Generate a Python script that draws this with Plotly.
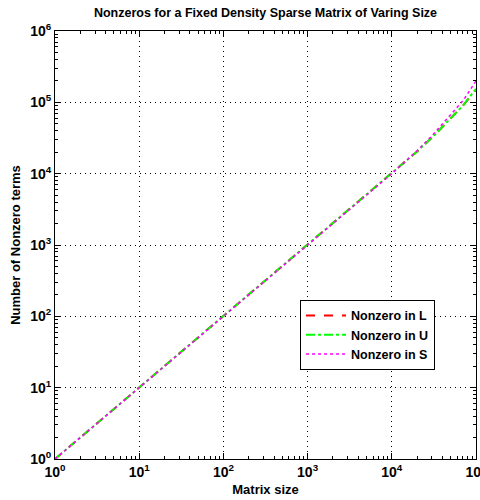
import plotly.graph_objects as go

matrix_size = [1, 2, 5, 10, 20, 50, 100, 200, 500, 1000, 2000, 5000, 10000, 20000, 30000, 50000, 70000, 100000]
nnz_L = [1, 2, 5, 10, 20, 50, 100, 200, 500, 1000, 2000, 5000, 10000, 20500, 32000, 60000, 90000, 150000]
nnz_U = [1, 2, 5, 10, 20, 50, 100, 200, 500, 1000, 2000, 5000, 10000, 20500, 32000, 60000, 90000, 155000]
nnz_S = [1, 2, 5, 10, 20, 50, 100, 200, 500, 1000, 2000, 5000, 10000, 21000, 34000, 67000, 105000, 200000]

x_major = [1, 10, 100, 1000, 10000, 100000]
x_labels = ["10<sup>0</sup>", "10<sup>1</sup>", "10<sup>2</sup>", "10<sup>3</sup>", "10<sup>4</sup>", "10<sup>5</sup>"]
y_major = [1, 10, 100, 1000, 10000, 100000, 1000000]
y_labels = ["10<sup>0</sup>", "10<sup>1</sup>", "10<sup>2</sup>", "10<sup>3</sup>", "10<sup>4</sup>", "10<sup>5</sup>", "10<sup>6</sup>"]

def minor_vals(majors):
    out = []
    for m in majors[:-1]:
        out += [m * k for k in range(2, 10)]
    return out

font = "Liberation Sans, Arial, sans-serif"

fig = go.Figure()
fig.add_trace(go.Scatter(x=matrix_size, y=nnz_L, mode="lines", name="<b>Nonzero in L</b>",
                         line=dict(color="#FF0000", width=2, dash="dash")))
fig.add_trace(go.Scatter(x=matrix_size, y=nnz_U, mode="lines", name="<b>Nonzero in U</b>",
                         line=dict(color="#00FF00", width=2, dash="dashdot")))
fig.add_trace(go.Scatter(x=matrix_size, y=nnz_S, mode="lines", name="<b>Nonzero in S</b>",
                         line=dict(color="#FF00FF", width=1.5, dash="dot")))

axis_common = dict(
    type="log", showline=True, linecolor="black", linewidth=1, mirror="ticks",
    ticks="inside", ticklen=6, tickcolor="black",
    showgrid=True, gridcolor="black", griddash="1px,4px", gridwidth=1,
    zeroline=False, tickfont=dict(family=font, size=14, color="black", weight="bold"),
    ticklabeloverflow="allow", automargin=False,
)

fig.update_xaxes(**axis_common, range=[-0.00001, 5.00001], tickvals=x_major, ticktext=x_labels,
                 minor=dict(tickvals=minor_vals(x_major), ticks="inside", ticklen=3, tickcolor="black", showgrid=False),
                 title=dict(text="<b>Matrix size</b>", font=dict(family=font, size=13, color="black"), standoff=6))
fig.update_yaxes(**axis_common, range=[-0.00001, 6.00001], tickvals=y_major, ticktext=y_labels,
                 minor=dict(tickvals=minor_vals(y_major), ticks="inside", ticklen=3, tickcolor="black", showgrid=False),
                 title=dict(text="<b>Number of Nonzero terms</b>", font=dict(family=font, size=13, color="black"), standoff=6))

fig.update_layout(
    width=480, height=500,
    margin=dict(l=55, r=4, t=31, b=41, autoexpand=False),
    paper_bgcolor="white", plot_bgcolor="white",
    title=dict(text="<b>Nonzeros for a Fixed Density Sparse Matrix of Varing Size</b>",
               x=0.5, xanchor="center", xref="paper", y=0.975, yanchor="middle",
               font=dict(family=font, size=12.5, color="black")),
    legend=dict(x=0.582, y=0.372, xanchor="left", yanchor="top",
                bordercolor="black", borderwidth=1, bgcolor="white",
                font=dict(family=font, size=12.5, color="black"),
                tracegroupgap=0, itemwidth=40),
    showlegend=True,
)

fig.write_html("out.html")
